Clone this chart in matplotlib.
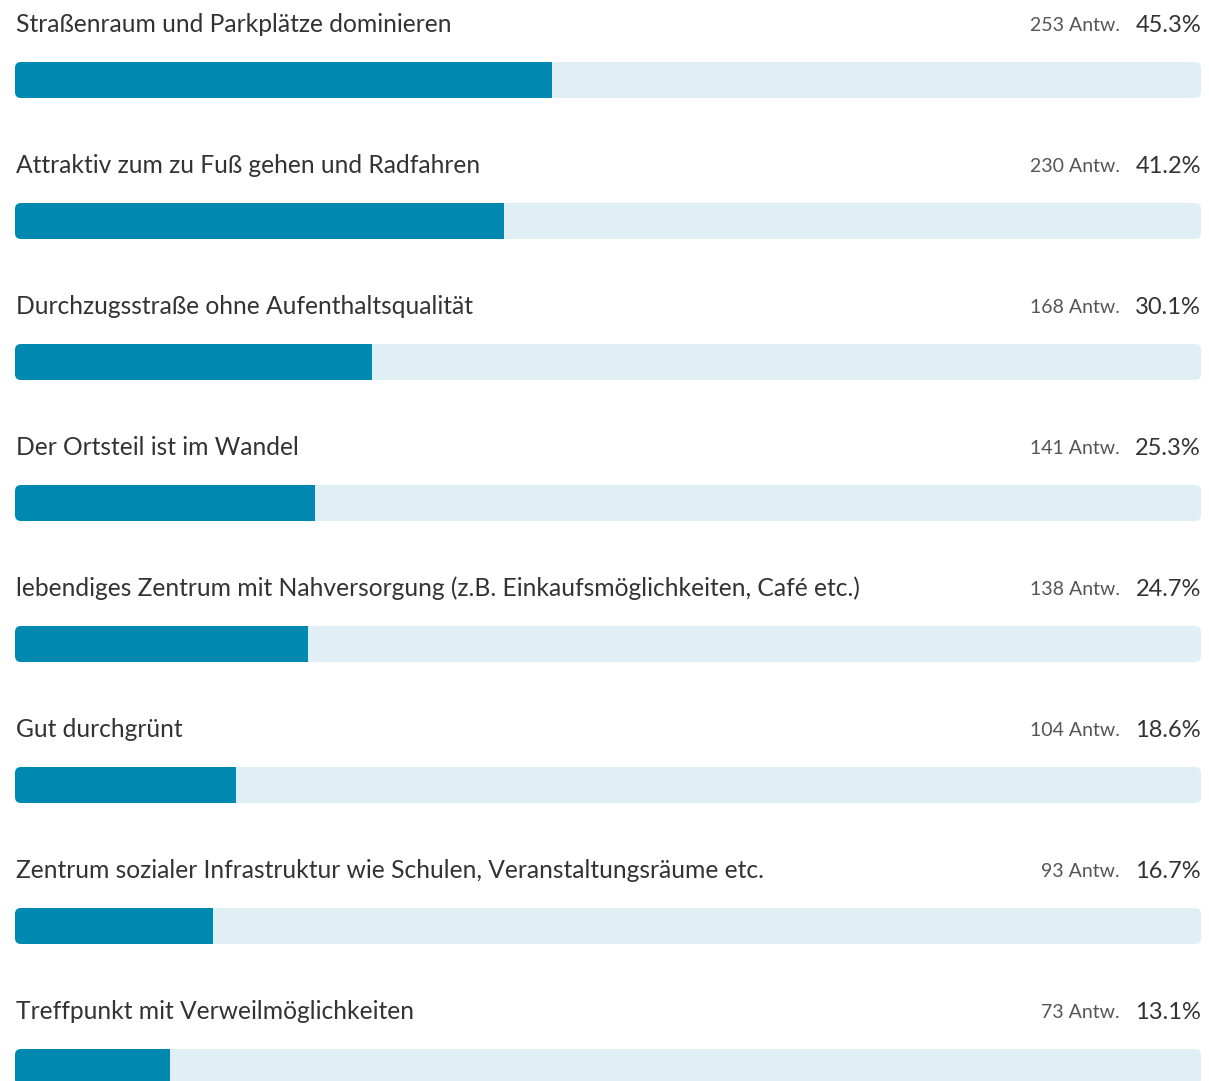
import matplotlib
matplotlib.use('Agg')
import matplotlib.pyplot as plt
from matplotlib.patches import FancyBboxPatch

# survey answers
labels = [
    'Straßenraum und Parkplätze dominieren',
    'Attraktiv zum zu Fuß gehen und Radfahren',
    'Durchzugsstraße ohne Aufenthaltsqualität',
    'Der Ortsteil ist im Wandel',
    'lebendiges Zentrum mit Nahversorgung (z.B. Einkaufsmöglichkeiten, Café etc.)',
    'Gut durchgrünt',
    'Zentrum sozialer Infrastruktur wie Schulen, Veranstaltungsräume etc.',
    'Treffpunkt mit Verweilmöglichkeiten',
]
counts = [253, 230, 168, 141, 138, 104, 93, 73]
percents = [45.3, 41.2, 30.1, 25.3, 24.7, 18.6, 16.7, 13.1]

W, H = 1209, 1081
fill_color = '#0089b0'
track_color = '#e0eff4'
text_color = '#333333'
font = 'Lato'

fig = plt.figure(figsize=(W / 100, H / 100), dpi=100)
fig.patch.set_facecolor('white')
# x axis in percent (0..100 spans the bar track), y axis in pixels from top
ax = fig.add_axes([15 / W, 0, 1186 / W, 1])
ax.set_xlim(0, 100)
ax.set_ylim(H, 0)
ax.axis('off')

px_per_pct = 1186 / 100
row_step = 141
bar_h = 36
radius = 6

for i, (lab, n, p) in enumerate(zip(labels, counts, percents)):
    yc = 80 + row_step * i
    top = yc - bar_h / 2
    track = FancyBboxPatch((0, top), 100, bar_h,
                           boxstyle=f'round,pad=0,rounding_size={radius / px_per_pct}',
                           mutation_aspect=px_per_pct,
                           facecolor=track_color, edgecolor='none')
    ax.add_patch(track)
    bars = ax.barh([yc], [p], height=bar_h, left=0, color=fill_color)
    for b in bars:
        b.set_clip_path(track)

    ty = 32 + row_step * i
    ax.text(0.1, ty, lab, fontsize=17.7, family=font, color=text_color,
            ha='left', va='baseline')
    ax.text(100, ty, f'{p:.1f}%', fontsize=17, family=font, color=text_color,
            ha='right', va='baseline')
    ax.annotate(f'{n} Antw.', xy=(100, ty - 1), xytext=(-81, 0),
                textcoords='offset pixels', fontsize=14, family=font,
                color='#555555', ha='right', va='baseline')

fig.savefig('out.png', dpi=100)
